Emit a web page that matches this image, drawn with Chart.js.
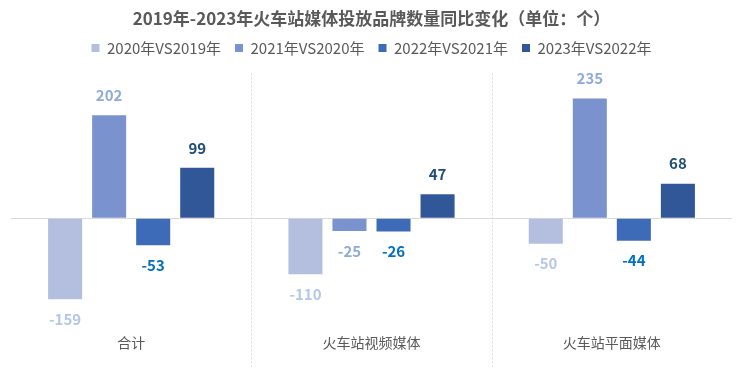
<!DOCTYPE html>
<html>
<head>
<meta charset="utf-8">
<script src="https://cdn.jsdelivr.net/npm/chart.js@4"></script>
<style>
  html, body { margin: 0; padding: 0; background: #fff; }
  #wrap { width: 752px; height: 374px; }
</style>
</head>
<body>
<div id="wrap"><canvas id="yoyChart"></canvas></div>
<script>
const categories = ["合计", "火车站视频媒体", "火车站平面媒体"];
const seriesNames = ["2020年VS2019年", "2021年VS2020年", "2022年VS2021年", "2023年VS2022年"];
const vs2019 = [-159, -110, -50];
const vs2020 = [202, -25, 235];
const vs2021 = [-53, -26, -44];
const vs2022 = [99, 47, 68];

const barColors = ["#b4bfe0", "#7a93ce", "#3e6bb8", "#325799"];
const labelColors = ["#b4c7e7", "#8faadc", "#0070c0", "#1f4e79"];
const fontFamily = '"Noto Sans CJK SC", "Noto Sans", sans-serif';

// draws the value above / below each bar
const valueLabels = {
  id: "valueLabels",
  afterDatasetsDraw(chart) {
    const ctx = chart.ctx;
    ctx.save();
    ctx.font = "bold 15px " + fontFamily;
    ctx.textAlign = "center";
    ctx.textBaseline = "middle";
    chart.data.datasets.forEach((ds, i) => {
      const meta = chart.getDatasetMeta(i);
      ctx.fillStyle = labelColors[i];
      meta.data.forEach((bar, j) => {
        const v = ds.data[j];
        const y = v >= 0 ? bar.y - 20 : bar.y + 20;
        ctx.fillText(String(v), bar.x, y);
      });
    });
    ctx.restore();
  }
};

// dotted separators between the categories, running down past the labels
const categorySeparators = {
  id: "categorySeparators",
  beforeDatasetsDraw(chart) {
    const xs = chart.scales.x;
    const ctx = chart.ctx;
    ctx.save();
    ctx.strokeStyle = "#d9d9d9";
    ctx.lineWidth = 1;
    ctx.setLineDash([2, 2]);
    for (let i = 1; i < categories.length; i++) {
      const x = Math.round((xs.getPixelForValue(i - 1) + xs.getPixelForValue(i)) / 2) + 0.5;
      ctx.beginPath();
      ctx.moveTo(x, chart.chartArea.top + 8);
      ctx.lineTo(x, chart.height - 7);
      ctx.stroke();
    }
    ctx.restore();
  }
};

const allSeries = [vs2019, vs2020, vs2021, vs2022];

new Chart(document.getElementById("yoyChart"), {
  type: "bar",
  data: {
    labels: categories,
    datasets: allSeries.map((d, i) => ({
      label: seriesNames[i],
      data: d,
      backgroundColor: barColors[i],
      categoryPercentage: 0.733,
      barPercentage: 0.773,
    })),
  },
  options: {
    responsive: true,
    maintainAspectRatio: false,
    animation: false,
    layout: { padding: { left: 11, right: 20, bottom: 17 } },
    scales: {
      x: {
        grid: { display: false },
        border: { display: false },
        ticks: { color: "#595959", font: { size: 14, family: fontFamily }, padding: 6 },
      },
      y: {
        min: -200,
        max: 300,
        ticks: { display: false },
        grid: {
          drawTicks: false,
          color: (c) => (c.tick && c.tick.value === 0) ? "#d9d9d9" : "transparent",
        },
        border: { display: false },
      },
    },
    plugins: {
      title: {
        display: true,
        text: "2019年-2023年火车站媒体投放品牌数量同比变化（单位：个）",
        color: "#595959",
        font: { size: 17, weight: "bold", family: fontFamily },
        padding: { top: 8, bottom: -2 },
      },
      legend: {
        position: "top",
        labels: {
          boxWidth: 8,
          boxHeight: 8,
          color: "#595959",
          font: { size: 15, family: fontFamily },
          padding: 14,
        },
      },
      tooltip: { enabled: false },
    },
  },
  plugins: [categorySeparators, valueLabels],
});
</script>
</body>
</html>
